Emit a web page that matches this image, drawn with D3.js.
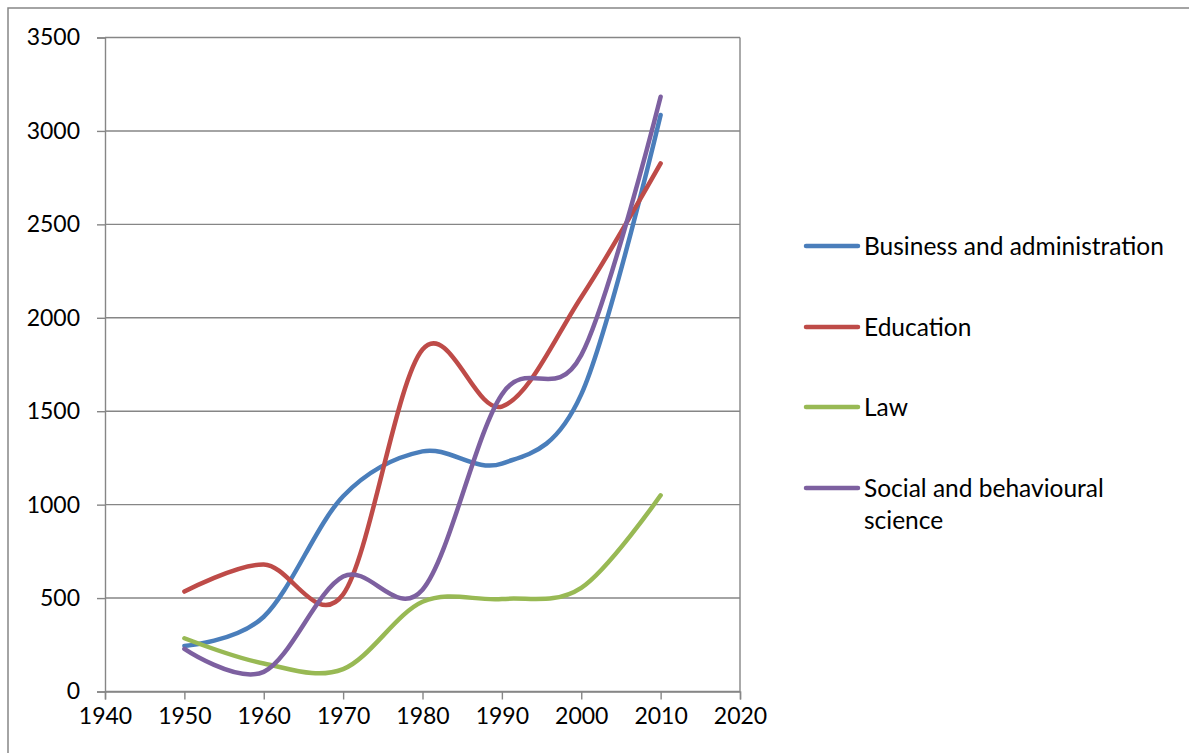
<!DOCTYPE html>
<html>
<head>
<meta charset="utf-8">
<script src="https://cdn.jsdelivr.net/npm/d3@7"></script>
<style>
  body { margin: 0; background: #fff; }
  text { font-family: Lato, "Open Sans", sans-serif; fill: #000; }
</style>
</head>
<body>
<script>
// values
var years = [1950, 1960, 1970, 1980, 1990, 2000, 2010];
var business = [244, 400, 1045, 1285, 1220, 1590, 3085];
var education = [535, 680, 520, 1830, 1525, 2110, 2826];
var law = [285, 150, 120, 480, 495, 555, 1050];
var social = [228, 105, 615, 545, 1590, 1800, 3183];

var seriesNames = ["Business and administration", "Education", "Law", "Social and behavioural science"];
var seriesColors = ["#4a7ebb", "#be4b48", "#98b954", "#7d60a0"];
var xTicks = [1940, 1950, 1960, 1970, 1980, 1990, 2000, 2010, 2020];
var yTicks = [0, 500, 1000, 1500, 2000, 2500, 3000, 3500];

var window_w = 1189, window_h = 753;
var plot = {left: 105, right: 740, top: 37.5, bottom: 691.5};

var svg = d3.select("body").append("svg")
    .attr("width", window_w).attr("height", window_h);

// outer chart border (runs off right and bottom)
svg.append("path")
    .attr("d", "M8," + window_h + "V8H" + window_w)
    .attr("fill", "none")
    .attr("stroke", "#868686")
    .attr("stroke-width", 1.5);

var xScale = d3.scaleLinear().domain([1940, 2020]).range([plot.left, plot.right]);
var yScale = d3.scaleLinear().domain([0, 3500]).range([plot.bottom, plot.top]);

// horizontal gridlines
svg.append("g").selectAll("line").data(yTicks).enter().append("line")
    .attr("x1", plot.left).attr("x2", plot.right)
    .attr("y1", function (d) { return yScale(d); })
    .attr("y2", function (d) { return yScale(d); })
    .attr("stroke", "#868686").attr("stroke-width", 1.4);

// right edge of plot area
svg.append("line")
    .attr("x1", plot.right).attr("x2", plot.right)
    .attr("y1", plot.top).attr("y2", plot.bottom)
    .attr("stroke", "#868686").attr("stroke-width", 1.4);

var yAxis = d3.axisLeft(yScale).tickValues(yTicks).tickFormat(d3.format("d")).tickSize(8).tickPadding(17);
var xAxis = d3.axisBottom(xScale).tickValues(xTicks).tickFormat(d3.format("d")).tickSize(8).tickPadding(8);

var yAxisG = svg.append("g")
    .attr("transform", "translate(" + plot.left + ",0)")
    .call(yAxis);
var xAxisG = svg.append("g")
    .attr("transform", "translate(0," + plot.bottom + ")")
    .call(xAxis);

[yAxisG, xAxisG].forEach(function (g) {
    g.select(".domain").attr("stroke", "#868686").attr("stroke-width", 1.4);
    g.selectAll(".tick line").attr("stroke", "#868686").attr("stroke-width", 1.4);
    g.selectAll(".tick text")
        .style("font-family", "Lato, 'Open Sans', sans-serif")
        .style("font-size", "23px")
        .attr("fill", "#000");
});

var allSeries = [business, education, law, social];

var line = d3.line()
    .x(function (d, i) { return xScale(years[i]); })
    .y(function (d) { return yScale(d); })
    .curve(d3.curveCardinal.tension(0));

allSeries.forEach(function (vals, k) {
    svg.append("path")
        .attr("d", line(vals))
        .attr("fill", "none")
        .attr("stroke", seriesColors[k])
        .attr("stroke-width", 4.5)
        .attr("stroke-linecap", "round")
        .attr("stroke-linejoin", "round");
});

// legend
var legendY = [246, 327, 407, 488];
var legend = svg.append("g");
seriesNames.forEach(function (name, k) {
    legend.append("line")
        .attr("x1", 806).attr("x2", 858)
        .attr("y1", legendY[k]).attr("y2", legendY[k])
        .attr("stroke", seriesColors[k])
        .attr("stroke-width", 4.5)
        .attr("stroke-linecap", "round");
    var t = legend.append("text")
        .attr("x", 864).attr("y", legendY[k] + 9)
        .style("font-size", "24.5px");
    if (k == 3) {
        t.append("tspan").attr("x", 864).text("Social and behavioural");
        t.append("tspan").attr("x", 864).attr("dy", 32).text("science");
    } else {
        t.text(name);
    }
});
</script>
</body>
</html>
